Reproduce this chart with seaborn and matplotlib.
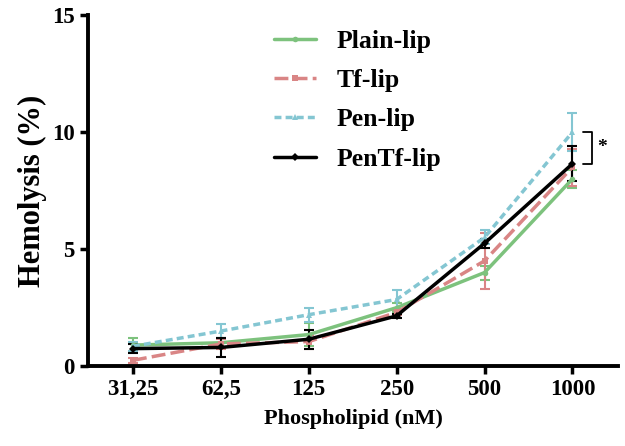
import numpy as np
import pandas as pd
import matplotlib
matplotlib.use('Agg')
import matplotlib.pyplot as plt
import seaborn as sns

# ---- data ----
doses = ['31,25', '62,5', '125', '250', '500', '1000']
series_names = ['Plain-lip', 'Tf-lip', 'Pen-lip', 'PenTf-lip']

plain_mean = [0.9, 1.0, 1.35, 2.5, 4.0, 8.0]
plain_err = [0.3, 0.2, 0.5, 0.2, 0.3, 0.4]
tf_mean = [0.25, 0.95, 1.05, 2.3, 4.5, 8.5]
tf_err = [0.1, 0.2, 0.3, 0.1, 1.2, 0.8]
pen_mean = [0.85, 1.5, 2.2, 2.85, 5.5, 10.0]
pen_err = [0.2, 0.3, 0.3, 0.4, 0.3, 0.8]
pentf_mean = [0.75, 0.8, 1.15, 2.15, 5.25, 8.65]
pentf_err = [0.2, 0.4, 0.4, 0.1, 0.2, 0.75]

means = [plain_mean, tf_mean, pen_mean, pentf_mean]
errs = [plain_err, tf_err, pen_err, pentf_err]

colors = ['#7dc27d', '#d98585', '#84c6d2', '#000000']
dashes = ['-', (0, (4, 1.5)), (0, (2, 1.2)), '-']
markers = ['o', 's', '^', 'D']

rows = []
for name, m, e in zip(series_names, means, errs):
    for i, (v, s) in enumerate(zip(m, e)):
        rows.append({'series': name, 'pos': i, 'dose': doses[i], 'value': v, 'err': s})
df = pd.DataFrame(rows)

sns.set_style('ticks', {'axes.edgecolor': 'black', 'text.color': 'black',
                        'axes.labelcolor': 'black', 'xtick.color': 'black',
                        'ytick.color': 'black'})
plt.rcParams['font.family'] = ['Liberation Serif', 'DejaVu Serif']
plt.rcParams['font.weight'] = 'bold'

fig = plt.figure(figsize=(6.25, 4.46), dpi=100)
ax = fig.add_axes([0.141, 0.179, 0.848, 0.787])

for name, c, ls, mk in zip(series_names, colors, dashes, markers):
    sub = df[df['series'] == name]
    ax.errorbar(sub['pos'], sub['value'], yerr=sub['err'], fmt='none',
                ecolor=c, elinewidth=1.5, capsize=3.5, capthick=1.5, zorder=2)
    sns.lineplot(data=sub, x='pos', y='value', ax=ax, color=c, linewidth=2.5,
                 linestyle=ls, marker=mk, markersize=4, markeredgewidth=0,
                 label=name, zorder=3)

ax.set_xlim(-0.51, 5.52)
ax.set_ylim(0, 15)
ax.set_xticks(range(len(doses)))
ax.set_xticklabels(doses)
ax.set_yticks([0, 5, 10, 15])
ax.tick_params(axis='both', labelsize=16.5, width=2.5, length=6, direction='out',
               colors='black')
for lab in ax.get_xticklabels() + ax.get_yticklabels():
    lab.set_fontweight('bold')
ax.set_xlabel('Phospholipid (nM)', fontsize=16, fontweight='bold', labelpad=6)
ax.set_ylabel('Hemolysis (%)', fontsize=22, fontweight='bold')
for sp in ['left', 'bottom']:
    ax.spines[sp].set_linewidth(2.8)
    ax.spines[sp].set_color('black')
sns.despine(ax=ax)

# significance bracket between Pen-lip and PenTf-lip at 1000
top, bot = pen_mean[-1], pentf_mean[-1]
bx = 5 + 0.12
ax.plot([bx, bx + 0.1, bx + 0.1, bx], [top, top, bot, bot], color='black', lw=1.3,
        clip_on=False)
ax.text(bx + 0.22, (top + bot) / 2, '*', fontsize=14, ha='center', va='center')

leg = ax.legend(loc='upper left', bbox_to_anchor=(0.308, 1.025), frameon=False,
                prop={'size': 18.5, 'weight': 'bold'}, handlelength=1.6,
                labelspacing=0.64, handletextpad=0.8)

fig.savefig('out.png', dpi=100)
